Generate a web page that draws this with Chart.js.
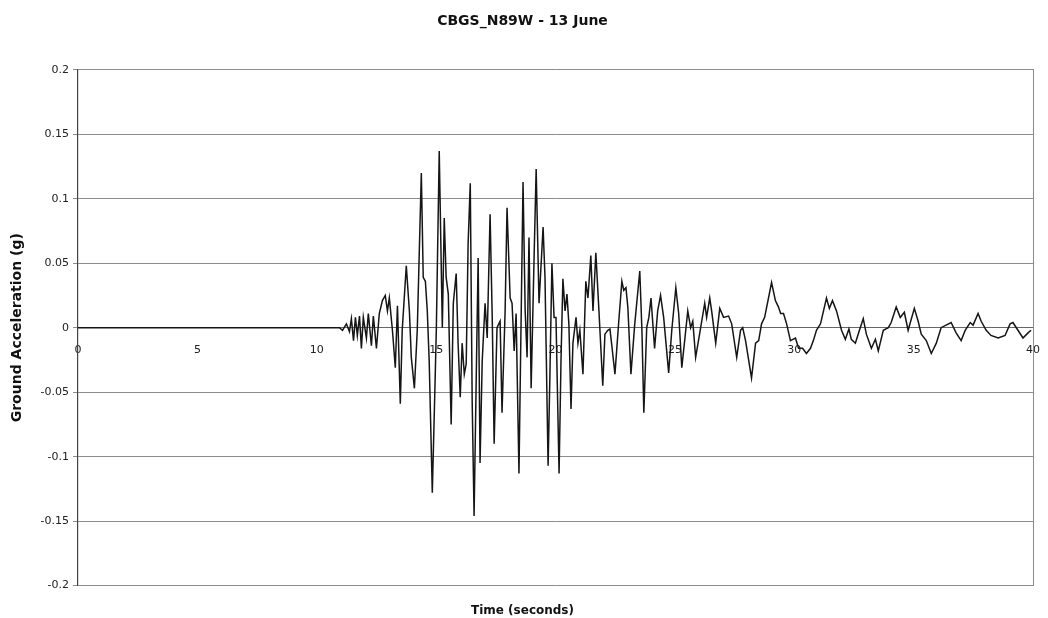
<!DOCTYPE html>
<html><head><meta charset="utf-8">
<script src="https://cdn.jsdelivr.net/npm/chart.js@4.4.0/dist/chart.umd.min.js"></script>
<style>html,body{margin:0;padding:0;background:#fff}#wrap{width:1048px;height:618px;position:relative}</style>
</head><body><div id="wrap"><canvas id="c"></canvas></div>
<script>
const chartTitle = "CBGS_N89W - 13 June";
const xTitle = "Time (seconds)";
const yTitle = "Ground Acceleration (g)";
const xTickLabels = ["0","5","10","15","20","25","30","35","40"];
const yTickLabels = ["-0.2","-0.15","-0.1","-0.05","0","0.05","0.1","0.15","0.2"];

const timeSec = [0,10.83,10.95,11.08,11.24,11.37,11.45,11.54,11.62,11.70,11.79,11.87,11.95,12.08,12.16,12.29,12.37,12.50,12.62,12.75,12.87,12.96,13.04,13.17,13.29,13.38,13.50,13.58,13.75,13.88,13.96,14.09,14.21,14.38,14.46,14.55,14.63,14.71,14.84,14.96,15.01,15.13,15.26,15.34,15.42,15.51,15.63,15.72,15.84,15.92,16.01,16.09,16.18,16.26,16.34,16.43,16.51,16.59,16.68,16.76,16.84,16.93,17.05,17.14,17.26,17.35,17.43,17.55,17.68,17.76,17.89,17.97,18.10,18.18,18.27,18.35,18.47,18.64,18.73,18.81,18.89,18.98,19.10,19.19,19.31,19.48,19.56,19.69,19.77,19.85,19.94,20.02,20.15,20.23,20.31,20.40,20.48,20.56,20.65,20.73,20.86,20.94,21.02,21.15,21.27,21.36,21.48,21.57,21.69,21.82,21.98,22.07,22.19,22.28,22.36,22.49,22.65,22.78,22.86,22.95,23.03,23.16,23.32,23.53,23.62,23.70,23.82,23.91,24.00,24.15,24.28,24.40,24.53,24.74,24.87,25.04,25.16,25.29,25.41,25.54,25.66,25.75,25.87,26.08,26.25,26.33,26.46,26.54,26.71,26.88,27.04,27.25,27.38,27.59,27.75,27.84,27.96,28.21,28.38,28.51,28.63,28.76,29.05,29.21,29.34,29.43,29.55,29.68,29.84,30.05,30.18,30.35,30.51,30.68,30.80,30.93,31.10,31.35,31.47,31.60,31.77,31.98,32.14,32.29,32.39,32.56,32.73,32.89,33.02,33.23,33.40,33.52,33.73,33.94,34.06,34.27,34.44,34.61,34.77,35.03,35.19,35.32,35.53,35.74,35.95,36.15,36.36,36.57,36.78,36.99,37.16,37.37,37.49,37.70,37.83,38.04,38.24,38.54,38.83,39.04,39.16,39.37,39.58,39.79,39.92];

const accelG = [0,0,0,-0.002,0.003,-0.003,0.007,-0.010,0.008,-0.006,0.009,-0.016,0.008,-0.008,0.011,-0.014,0.009,-0.016,0.011,0.021,0.025,0.013,0.023,-0.002,-0.031,0.017,-0.059,-0.002,0.048,0.013,-0.023,-0.047,-0.002,0.120,0.039,0.036,0.013,-0.026,-0.128,-0.039,0,0.137,0,0.085,0.039,0.026,-0.075,0.019,0.042,-0.012,-0.054,-0.012,-0.036,-0.028,0.065,0.112,-0.057,-0.146,-0.039,0.054,-0.105,-0.026,0.019,-0.008,0.088,0.008,-0.090,0,0.005,-0.066,0.013,0.093,0.023,0.019,-0.018,0.011,-0.113,0.113,0.013,-0.023,0.070,-0.047,0.052,0.123,0.019,0.078,0.039,-0.107,-0.033,0.050,0.008,0.008,-0.113,-0.026,0.038,0.013,0.026,0.003,-0.063,-0.012,0.008,-0.012,-0.002,-0.036,0.036,0.023,0.056,0.013,0.058,0.013,-0.045,-0.005,-0.002,-0.001,-0.014,-0.036,0.005,0.036,0.029,0.031,0.016,-0.036,0.003,0.044,-0.002,-0.066,0,0.008,0.023,-0.016,0.013,0.025,0.008,-0.035,-0.002,0.031,0.011,-0.031,-0.010,0.013,0,0.005,-0.023,0,0.019,0.008,0.023,0.013,-0.012,0.015,0.008,0.009,0.003,-0.023,-0.002,0,-0.010,-0.039,-0.012,-0.010,0.003,0.008,0.035,0.021,0.016,0.011,0.011,0.003,-0.010,-0.008,-0.016,-0.016,-0.020,-0.016,-0.010,-0.002,0.003,0.023,0.015,0.021,0.013,-0.002,-0.009,-0.001,-0.009,-0.012,-0.002,0.007,-0.005,-0.016,-0.009,-0.018,-0.002,0,0.004,0.016,0.008,0.012,-0.002,0.015,0.005,-0.005,-0.010,-0.020,-0.012,0,0.002,0.004,-0.004,-0.010,-0.002,0.004,0.002,0.011,0.005,-0.002,-0.006,-0.008,-0.006,0.003,0.004,-0.002,-0.008,-0.004,-0.002];

const points = timeSec.map((t, i) => ({x: t, y: accelG[i]}));
const FONT = "'DejaVu Sans', sans-serif";
const gridGray = '#8c8c8c';

new Chart(document.getElementById('c'), {
  type: 'line',
  data: { datasets: [{
    data: points, borderColor: '#151515', borderWidth: 1.5,
    pointRadius: 0, tension: 0, fill: false, yAxisID: 'y', xAxisID: 'x'
  }]},
  options: {
    responsive: true, maintainAspectRatio: false, animation: false,
    layout: { padding: { left: 0, right: 3, top: 0, bottom: 0 } },
    plugins: {
      legend: { display: false },
      tooltip: { enabled: false },
      title: { display: true, text: chartTitle, color: '#111',
        font: { family: FONT, size: 14, weight: 'bold' },
        padding: { top: 13, bottom: 40 } },
      subtitle: { display: true, position: 'bottom', text: xTitle, color: '#111',
        font: { family: FONT, size: 12, weight: 'bold' },
        padding: { top: 18, bottom: 0 } }
    },
    scales: {
      x: {
        type: 'linear', min: 0, max: 40, position: { y: 0 },
        grid: { display: false },
        border: { display: true, color: '#666', width: 1 },
        ticks: { stepSize: 5, padding: 8, color: '#222', maxRotation: 0,
          font: { family: FONT, size: 11 },
          callback: v => xTickLabels[Math.round(v / 5)] }
      },
      y: {
        type: 'linear', min: -0.2, max: 0.2, position: 'left',
        afterFit: s => { s.width = 78; },
        grid: { color: gridGray, lineWidth: 1, tickLength: 5, drawTicks: true },
        border: { display: true, color: '#444', width: 1.2 },
        ticks: { stepSize: 0.05, padding: 4, color: '#222',
          font: { family: FONT, size: 11 },
          callback: v => yTickLabels[Math.round((v + 0.2) / 0.05)] },
        title: { display: true, text: yTitle, color: '#111',
          font: { family: FONT, size: 14, weight: 'bold' },
          padding: { top: 9, bottom: 0 } }
      },
      y2: {
        type: 'linear', min: -0.2, max: 0.2, position: 'right',
        afterFit: s => { s.width = 0; },
        grid: { display: false, drawTicks: false },
        border: { display: true, color: gridGray, width: 1 },
        ticks: { display: false }
      }
    }
  }
});
</script>
</body></html>
